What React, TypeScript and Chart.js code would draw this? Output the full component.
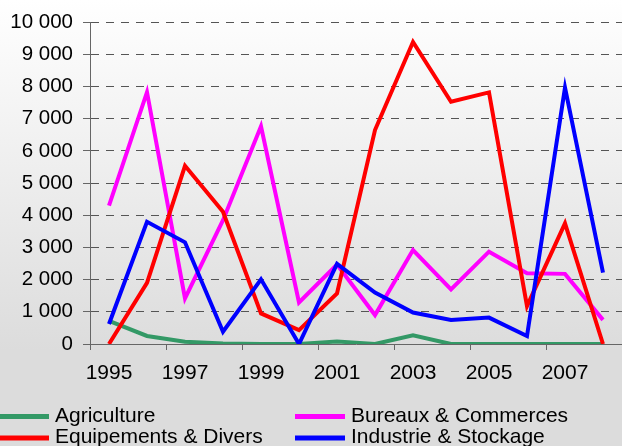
import React, { useEffect, useRef } from "react";
import { Chart, registerables } from "chart.js";

Chart.register(...registerables);

const years = ["1995", "1996", "1997", "1998", "1999", "2000", "2001", "2002", "2003", "2004", "2005", "2006", "2007", "2008"];
const seriesNames = ["Agriculture", "Bureaux & Commerces", "Equipements & Divers", "Industrie & Stockage"];
const seriesColors = ["#339966", "#FF00FF", "#FF0000", "#0000FF"];
const agriculture = [720, 250, 70, 15, 0, 0, 80, 0, 270, 0, 0, 0, 0, 0];
const bureaux = [4300, 7830, 1420, 3850, 6770, 1290, 2470, 900, 2920, 1700, 2870, 2200, 2180, 750];
const equipements = [0, 1900, 5540, 4110, 950, 430, 1570, 6650, 9390, 7530, 7820, 1180, 3750, 0];
const industrie = [620, 3800, 3160, 380, 2010, 0, 2490, 1600, 980, 750, 820, 250, 7970, 2220];
const seriesValues = [agriculture, bureaux, equipements, industrie];
const yMin = 0;
const yMax = 10000;
const yStep = 1000;

const FONT = "'Liberation Sans', Arial, sans-serif";

const fmt = (v: number) => String(v).replace(/\B(?=(\d{3})+(?!\d))/g, " ");

const legendPlugin = {
  id: "customLegend",
  afterDraw(chart: any) {
    const ctx = chart.ctx;
    ctx.save();
    ctx.font = `21px ${FONT}`;
    ctx.fillStyle = "#000";
    ctx.textBaseline = "alphabetic";
    const colLineX = [[0, 49], [295, 345]];
    const colTextX = [55, 351];
    const rowY = [416.5, 438];
    seriesNames.forEach((name, i) => {
      const col = i % 2;
      const row = Math.floor(i / 2);
      const y = rowY[row];
      ctx.strokeStyle = seriesColors[i];
      ctx.lineWidth = 5;
      ctx.beginPath();
      ctx.moveTo(colLineX[col][0], y);
      ctx.lineTo(colLineX[col][1], y);
      ctx.stroke();
      ctx.fillText(name, colTextX[col], y + 5.3);
    });
    ctx.restore();
  },
};

export default function App() {
  const ref = useRef<HTMLCanvasElement>(null);
  useEffect(() => {
    document.body.style.margin = "0";
    const canvas = ref.current!;
    const orders = [4, 3, 2, 1];
    const chart = new Chart(canvas, {
      type: "line",
      data: {
        labels: years,
        datasets: seriesNames.map((name, i) => ({
          label: name,
          data: seriesValues[i],
          borderColor: seriesColors[i],
          backgroundColor: seriesColors[i],
          borderWidth: 4,
          pointRadius: 0,
          tension: 0,
          fill: false,
          order: orders[i],
        })),
      },
      options: {
        responsive: false,
        animation: false,
        devicePixelRatio: 1,
        layout: { padding: { top: 22, left: 0, right: 0, bottom: 0 } },
        plugins: { legend: { display: false }, tooltip: { enabled: false } },
        scales: {
          x: {
            type: "category",
            offset: true,
            afterFit: (s: any) => {
              s.height = 102;
            },
            grid: {
              display: true,
              offset: true,
              drawOnChartArea: false,
              drawTicks: true,
              tickLength: 6,
              tickColor: (c: any) => (c.index % 2 === 0 ? "#666" : "rgba(0,0,0,0)"),
            },
            border: { display: true, color: "#666", width: 1 },
            ticks: {
              autoSkip: false,
              maxRotation: 0,
              minRotation: 0,
              padding: 11,
              color: "#000",
              font: { family: FONT, size: 21 },
              callback: (_v: any, idx: number) => (idx % 2 === 0 ? years[idx] : ""),
            },
          },
          y: {
            min: yMin,
            max: yMax,
            afterFit: (s: any) => {
              s.width = 90;
            },
            grid: {
              color: "#555",
              lineWidth: 1,
              drawTicks: true,
              tickLength: 7,
              tickColor: "#666",
              tickBorderDash: [],
            },
            border: { display: true, color: "#666", width: 1, dash: [8, 7] },
            ticks: {
              stepSize: yStep,
              padding: 10,
              color: "#000",
              font: { family: FONT, size: 20.5 },
              callback: (v: any) => fmt(Number(v)),
            },
          },
        },
      },
      plugins: [legendPlugin],
    });
    return () => chart.destroy();
  }, []);
  return (
    <div
      style={{
        width: 622,
        height: 446,
        background: "linear-gradient(to bottom, #ffffff 0px, #dcdcdc 350px, #dcdcdc 446px)",
        overflow: "hidden",
      }}
    >
      <canvas ref={ref} width={622} height={446} style={{ width: 622, height: 446, display: "block" }} />
    </div>
  );
}
